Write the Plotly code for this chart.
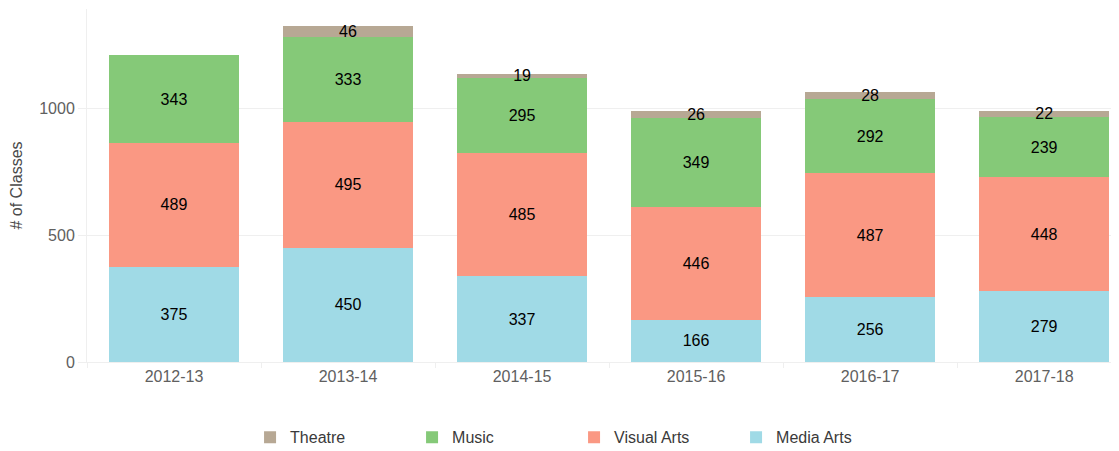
import plotly.graph_objects as go

years = ["2012-13", "2013-14", "2014-15", "2015-16", "2016-17", "2017-18"]
media_arts = [375, 450, 337, 166, 256, 279]
visual_arts = [489, 495, 485, 446, 487, 448]
music = [343, 333, 295, 349, 292, 239]
theatre = [0, 46, 19, 26, 28, 22]

series = [
    ("Media Arts", media_arts, "#A0DAE6"),
    ("Visual Arts", visual_arts, "#FA9883"),
    ("Music", music, "#85C978"),
    ("Theatre", theatre, "#B7A894"),
]

font_family = "Liberation Sans, Arial, sans-serif"
grid = "#efefef"

fig = go.Figure()
for name, values, color in series:
    fig.add_trace(
        go.Bar(
            x=years,
            y=values,
            name=name,
            marker=dict(color=color, line=dict(width=0)),
            text=[str(v) if v else "" for v in values],
            textposition="inside",
            insidetextanchor="middle",
            textangle=0,
            constraintext="none",
            textfont=dict(color="black", size=16, family=font_family),
        )
    )

fig.update_layout(
    barmode="stack",
    bargap=0.25,
    width=1119,
    height=451,
    margin=dict(l=79, r=8, t=1, b=97, autoexpand=False),
    plot_bgcolor="white",
    paper_bgcolor="white",
    font=dict(family=font_family, size=16, color="#606060"),
    legend=dict(
        orientation="h",
        traceorder="reversed",
        x=0.158,
        xanchor="left",
        y=-0.165,
        yanchor="top",
        entrywidth=117,
        entrywidthmode="pixels",
        font=dict(size=16, color="#3a3a3a",
                  family="Liberation Sans Narrow, Arial Narrow, Liberation Sans, sans-serif"),
    ),
    xaxis=dict(
        range=[-0.5, 5.43],
        showgrid=False,
        tickson="boundaries",
        ticks="outside",
        ticklen=5,
        tickcolor=grid,
        showline=True,
        linecolor=grid,
        tickfont=dict(size=16, color="#606060"),
    ),
    yaxis=dict(
        title=dict(text="# of Classes", font=dict(size=16, color="#4a4a4a"), standoff=14),
        range=[0, 1390],
        tickvals=[0, 500, 1000],
        gridcolor=grid,
        zeroline=False,
        showline=True,
        linecolor=grid,
        ticks="outside",
        ticklen=8,
        tickcolor=grid,
        tickfont=dict(size=16, color="#606060"),
    ),
)

fig.write_html("out.html")
